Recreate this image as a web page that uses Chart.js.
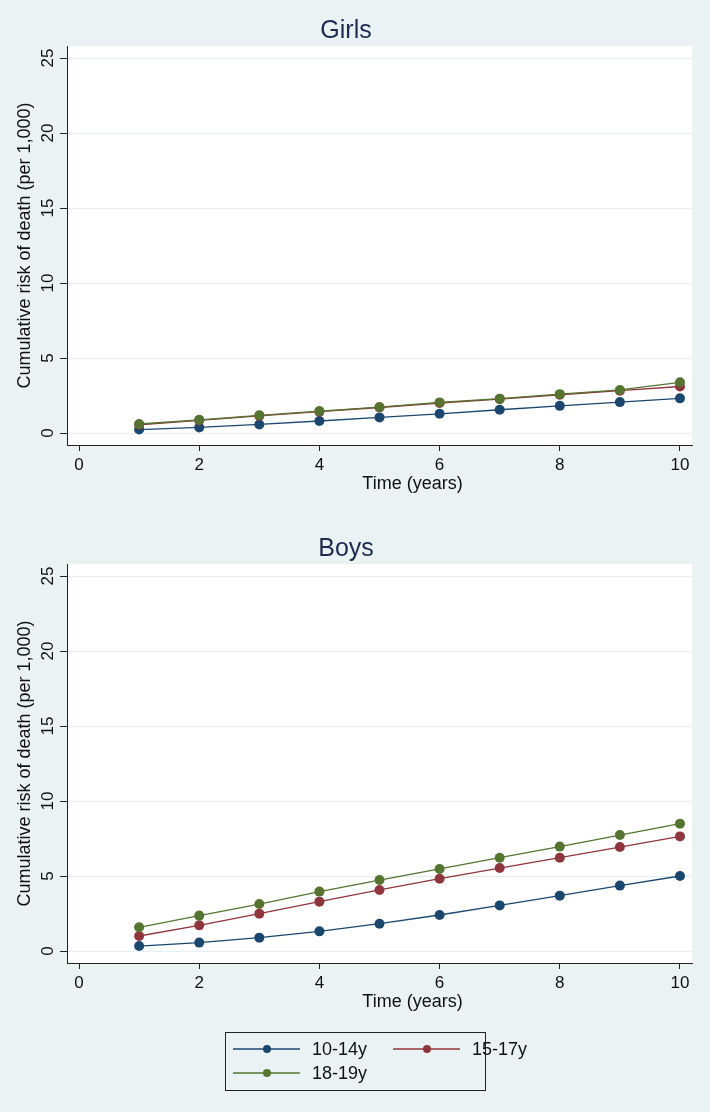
<!DOCTYPE html>
<html>
<head>
<meta charset="utf-8">
<script src="https://cdn.jsdelivr.net/npm/chart.js@4"></script>
<style>
  html, body { margin: 0; padding: 0; background: #eaf2f3; }
  body { width: 710px; height: 1112px; position: relative; overflow: hidden; }
  canvas { position: absolute; left: 0; }
  #girls { top: 0; }
  #boys { top: 503px; }
</style>
</head>
<body>
<canvas id="girls" width="710" height="495"></canvas>
<canvas id="boys" width="710" height="609"></canvas>
<script>
// data (cumulative risk of death per 1,000)
const years = [1, 2, 3, 4, 5, 6, 7, 8, 9, 10];
const ageGroups = ["10-14y", "15-17y", "18-19y"];
const xTicks = [0, 2, 4, 6, 8, 10];
const yTicks = [0, 5, 10, 15, 20, 25];

const girls10to14 = [0.23, 0.37, 0.57, 0.80, 1.04, 1.28, 1.55, 1.81, 2.06, 2.31];
const girls15to17 = [0.55, 0.84, 1.14, 1.42, 1.70, 2.00, 2.26, 2.55, 2.82, 3.10];
const girls18to19 = [0.60, 0.88, 1.18, 1.46, 1.73, 2.04, 2.29, 2.59, 2.87, 3.38];

const boys10to14 = [0.33, 0.56, 0.89, 1.31, 1.82, 2.40, 3.04, 3.69, 4.36, 5.00];
const boys15to17 = [1.00, 1.71, 2.49, 3.29, 4.07, 4.82, 5.53, 6.22, 6.93, 7.64];
const boys18to19 = [1.58, 2.36, 3.13, 3.96, 4.73, 5.47, 6.22, 6.96, 7.73, 8.49];

const colors = ["#1a476f", "#90353b", "#55752f"];
const xTitle = "Time (years)";

Chart.defaults.font.family = "'Liberation Sans', Arial, sans-serif";
Chart.defaults.color = "#111";

// white plot region
const plotBg = {
  id: "plotBg",
  beforeDraw(chart) {
    const a = chart.chartArea;
    chart.ctx.save();
    chart.ctx.fillStyle = "#ffffff";
    chart.ctx.fillRect(a.left, a.top, a.right - a.left, a.bottom - a.top);
    chart.ctx.restore();
  },
};

// x title sits a bit right of the plot centre in the original
const xTitlePlugin = {
  id: "xTitlePlugin",
  afterDraw(chart) {
    const ctx = chart.ctx;
    const sx = chart.scales.x;
    ctx.save();
    ctx.font = "18px 'Liberation Sans', Arial, sans-serif";
    ctx.fillStyle = "#111";
    ctx.textAlign = "center";
    ctx.textBaseline = "middle";
    ctx.fillText(xTitle, (sx.left + sx.right) / 2 + 33, sx.bottom - 11);
    ctx.restore();
  },
};

// boxed legend under the boys panel, two columns like the original
const boxLegend = {
  id: "boxLegend",
  afterDraw(chart) {
    if (!chart.options.plugins.boxLegend) return;
    const ctx = chart.ctx;
    const top = chart.scales.x.bottom + 19;
    const left = 225, w = 260, h = 58;
    ctx.save();
    ctx.strokeStyle = "#222";
    ctx.lineWidth = 1;
    ctx.strokeRect(left + 0.5, top + 0.5, w, h);
    ctx.font = "18px 'Liberation Sans', Arial, sans-serif";
    ctx.textBaseline = "middle";
    chart.data.datasets.forEach((ds, i) => {
      const col = i % 2, row = Math.floor(i / 2);
      const x0 = left + 8 + col * 160;
      const y0 = top + 17 + row * 24;
      ctx.strokeStyle = ds.borderColor;
      ctx.lineWidth = 1.3;
      ctx.beginPath();
      ctx.moveTo(x0, y0);
      ctx.lineTo(x0 + 67, y0);
      ctx.stroke();
      ctx.fillStyle = ds.borderColor;
      ctx.beginPath();
      ctx.arc(x0 + 34, y0, 4, 0, Math.PI * 2);
      ctx.fill();
      ctx.fillStyle = "#111";
      ctx.fillText(ds.label, x0 + 79, y0 + 1);
    });
    ctx.restore();
  },
};

function makeDatasets(series) {
  return series.map((vals, i) => ({
    label: ageGroups[i],
    data: years.map((t, j) => ({ x: t, y: vals[j] })),
    borderColor: colors[i],
    backgroundColor: colors[i],
    borderWidth: 1.3,
    pointRadius: 5,
    pointBorderWidth: 0,
    order: series.length - i,
  }));
}

function makeChart(id, title, series, titlePad, padBottom, withLegend) {
  const ctx = document.getElementById(id).getContext("2d");
  return new Chart(ctx, {
    type: "line",
    data: { datasets: makeDatasets(series) },
    options: {
      responsive: false,
      animation: false,
      layout: { padding: { left: 0, right: 18, top: 0, bottom: padBottom } },
      plugins: {
        legend: { display: false },
        tooltip: { enabled: false },
        title: {
          display: true,
          text: title,
          color: "#1c2b4f",
          font: { size: 25, weight: "normal" },
          padding: titlePad,
        },
        boxLegend: withLegend,
      },
      scales: {
        x: {
          type: "linear",
          min: -0.2,
          max: 10.2,
          afterBuildTicks: (axis) => {
            axis.ticks = xTicks.map((v) => ({ value: v }));
          },
          afterFit: (axis) => {
            axis.height = 50;
          },
          ticks: { font: { size: 17 }, padding: 4, maxRotation: 0 },
          grid: {
            drawOnChartArea: false,
            tickLength: 6,
            tickColor: "#222",
          },
          border: { color: "#222", width: 1 },
        },
        y: {
          type: "linear",
          min: -0.8,
          max: 25.8,
          afterBuildTicks: (axis) => {
            axis.ticks = yTicks.map((v) => ({ value: v }));
          },
          afterFit: (axis) => {
            axis.width = 67;
          },
          ticks: {
            font: { size: 17 },
            minRotation: 90,
            maxRotation: 90,
            crossAlign: "center",
            padding: 2,
          },
          grid: {
            color: "#e6eef0",
            tickLength: 7,
            tickColor: "#222",
          },
          border: { color: "#222", width: 1 },
          title: {
            display: true,
            text: "Cumulative risk of death (per 1,000)",
            font: { size: 18 },
            padding: { top: 14, bottom: 0 },
          },
        },
      },
    },
    plugins: [plotBg, xTitlePlugin, boxLegend],
  });
}

makeChart("girls", "Girls", [girls10to14, girls15to17, girls18to19], { top: 16, bottom: 0 }, 0, false);
makeChart("boys", "Boys", [boys10to14, boys15to17, boys18to19], { top: 31, bottom: 0 }, 99, true);
</script>
</body>
</html>
